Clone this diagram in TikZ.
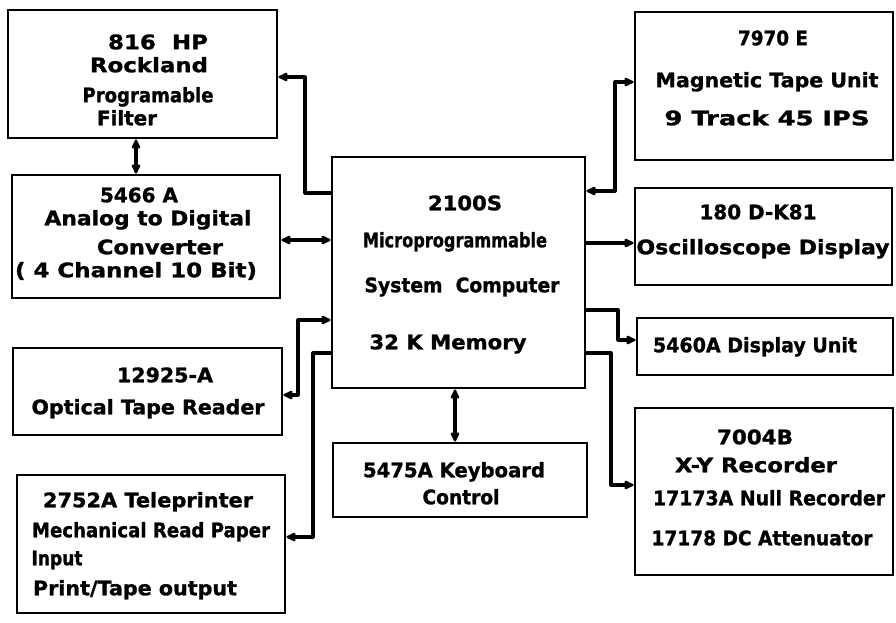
\documentclass[tikz,border=0pt]{standalone}
\usepackage{fontspec}
\setmainfont{DejaVu Sans}[BoldFeatures={FakeBold=1.2}]
\usepackage{graphicx}
\usetikzlibrary{arrows.meta}
% set a label line to a given width, keeping its height
\newcommand{\fitline}[2]{\resizebox{#1pt}{\height}{#2}}
\begin{document}
\begin{tikzpicture}[x=1pt,y=-1pt,
  unit/.style={draw, rectangle, line width=2.8pt, inner sep=0pt},
  lbl/.style={font=\fontsize{20}{23}\selectfont\bfseries, inner sep=0pt,
              text height=14.5pt, text depth=0pt},
  link/.style={line width=3.2pt, line join=round},
  >={Latex[length=12pt,width=11pt,round]}]
\useasboundingbox (0,0) rectangle (896,623);

% ---- unit boxes ----
\node[unit, minimum width=269pt, minimum height=128pt] (filt)   at (142.5,74)   {};
\node[unit, minimum width=268pt, minimum height=123pt] (adc)    at (146,236.5)  {};
\node[unit, minimum width=269pt, minimum height=87pt]  (reader) at (147.5,391.5){};
\node[unit, minimum width=268pt, minimum height=138pt] (tele)   at (151,544)    {};
\node[unit, minimum width=253pt, minimum height=231pt] (comp)   at (458.5,272.5){};
\node[unit, minimum width=254pt, minimum height=74pt]  (kbd)    at (460,480)    {};
\node[unit, minimum width=258pt, minimum height=148pt] (tape)   at (764,86)     {};
\node[unit, minimum width=257pt, minimum height=97pt]  (scope)  at (763.5,236.5){};
\node[unit, minimum width=256pt, minimum height=57pt]  (disp)   at (765,346.5)  {};
\node[unit, minimum width=258pt, minimum height=167pt] (xy)     at (764,491.5)  {};

% ---- labels ----
\node[lbl] (filt1) at (158,42)  {\fitline{100}{816\ \ HP}};
\node[lbl] (filt2) at (149,65)  {\fitline{118}{Rockland}};
\node[lbl] (filt3) at (148,95)  {\fitline{131}{Programable}};
\node[lbl] (filt4) at (127,118) {\fitline{60}{Filter}};

\node[lbl] (adc1) at (139,195) {\fitline{78}{5466 A}};
\node[lbl] (adc2) at (148,218) {\fitline{207}{Analog to Digital}};
\node[lbl] (adc3) at (160,247) {\fitline{126}{Converter}};
\node[lbl] (adc4) at (136,270) {\fitline{242}{( 4 Channel 10 Bit)}};

\node[lbl] (rdr1) at (165,375) {\fitline{96}{12925-A}};
\node[lbl] (rdr2) at (148,407) {\fitline{233}{Optical Tape Reader}};

\node[lbl] (tel1) at (148,500) {\fitline{210}{2752A Teleprinter}};
\node[lbl] (tel2) at (151,530) {\fitline{238}{Mechanical Read Paper}};
\node[lbl] (tel3) at (57,558)  {\fitline{51}{Input}};
\node[lbl] (tel4) at (135,588) {\fitline{204}{Print/Tape output}};

\node[lbl] (cmp1) at (465,203) {\fitline{74}{2100S}};
\node[lbl] (cmp2) at (455,240) {\fitline{184}{Microprogrammable}};
\node[lbl] (cmp3) at (462,285) {\fitline{195}{System\ \ Computer}};
\node[lbl] (cmp4) at (448,342) {\fitline{157}{32 K Memory}};

\node[lbl] (kbd1) at (454,470) {\fitline{182}{5475A Keyboard}};
\node[lbl] (kbd2) at (461,497) {\fitline{77}{Control}};

\node[lbl] (tap1) at (773,38)  {\fitline{70}{7970 E}};
\node[lbl] (tap2) at (767,80)  {\fitline{223}{Magnetic Tape Unit}};
\node[lbl] (tap3) at (767,118) {\fitline{205}{9 Track 45 IPS}};

\node[lbl] (scp1) at (758,212) {\fitline{117}{180 D-K81}};
\node[lbl] (scp2) at (763,247) {\fitline{253}{Oscilloscope Display}};

\node[lbl] (dsp1) at (755,345) {\fitline{204}{5460A Display Unit}};

\node[lbl] (xy1) at (755,437) {\fitline{76}{7004B}};
\node[lbl] (xy2) at (756,465) {\fitline{162}{X-Y Recorder}};
\node[lbl] (xy3) at (769,498) {\fitline{232}{17173A Null Recorder}};
\node[lbl] (xy4) at (762,538) {\fitline{221}{17178 DC Attenuator}};

% ---- connectors ----
\draw[link,<->] (136,0 |- filt.south) -- (136,0 |- adc.north);
\draw[link,->]  (comp.west |- 0,193) -| (305,77) -- (filt.east |- 0,77);
\draw[link,<->] (adc.east |- 0,240) -- (comp.west |- 0,240);
\draw[link,<->] (comp.west |- 0,320) -| (298,395) -- (reader.east |- 0,395);
\draw[link,->]  (comp.west |- 0,353) -| (313,537) -- (tele.east |- 0,537);
\draw[link,<->] (455,0 |- comp.south) -- (455,0 |- kbd.north);
\draw[link,<->] (comp.east |- 0,191) -| (615,82) -- (tape.west |- 0,82);
\draw[link,->]  (comp.east |- 0,243) -- (scope.west |- 0,243);
\draw[link,->]  (comp.east |- 0,310) -| (618,340) -- (disp.west |- 0,340);
\draw[link,->]  (comp.east |- 0,353) -| (611,485) -- (xy.west |- 0,485);
\end{tikzpicture}
\end{document}
